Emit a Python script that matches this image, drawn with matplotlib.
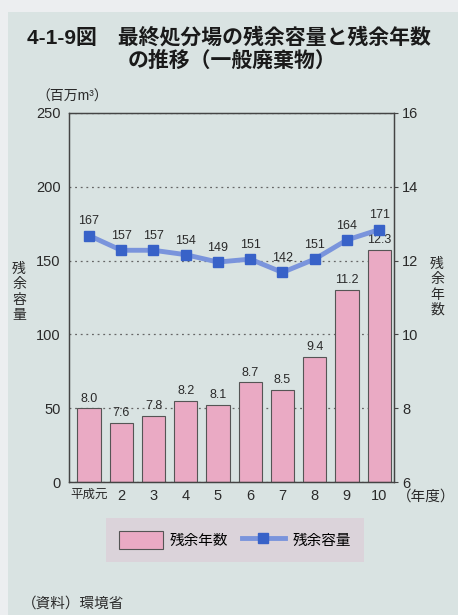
import matplotlib.pyplot as plt
from matplotlib.patches import Patch, Rectangle
from matplotlib.lines import Line2D
import numpy as np

plt.rcParams['font.family'] = ['Liberation Sans', 'Noto Sans CJK JP', 'DejaVu Sans']

years = ['平成元', '2', '3', '4', '5', '6', '7', '8', '9', '10']
remaining_years = [8.0, 7.6, 7.8, 8.2, 8.1, 8.7, 8.5, 9.4, 11.2, 12.3]
remaining_capacity = [167, 157, 157, 154, 149, 151, 142, 151, 164, 171]

bg = '#d9e3e2'
bar_color = '#eaaac4'
line_color = '#7a94dc'
marker_color = '#3862c8'
text_color = '#2a2a2a'

fig = plt.figure(figsize=(4.58, 6.15), dpi=100, facecolor=bg)
# pale margin along the top and left edges
fig.patches.append(Rectangle((0, 1 - 12 / 615), 1, 12 / 615, transform=fig.transFigure,
                             facecolor='#eceef0', edgecolor='none', zorder=0))
fig.patches.append(Rectangle((0, 0), 8 / 458, 1, transform=fig.transFigure,
                             facecolor='#eceef0', edgecolor='none', zorder=0))

ax = fig.add_axes([69 / 458, 1 - 482 / 615, 325 / 458, 369 / 615])
ax2 = ax.twinx()
ax.set_zorder(ax2.get_zorder() + 1)
ax.patch.set_visible(False)
ax2.set_facecolor(bg)

x = np.arange(len(years))

# bars: remaining years (right axis, starts at 6)
base = 6
ax2.bar(x, np.array(remaining_years) - base, bottom=base, width=0.72,
        color=bar_color, edgecolor='#555555', linewidth=0.8, zorder=2)
for xi, v in zip(x, remaining_years):
    ax2.text(xi, v + 0.1, f'{v:.1f}', ha='center', va='bottom', fontsize=9,
             color=text_color, zorder=3)

ax2.set_ylim(6, 16)
ax2.set_yticks([6, 8, 10, 12, 14, 16])
ax2.yaxis.grid(True, linestyle=(0, (1.5, 3)), color='#666666', linewidth=0.9)
ax2.set_axisbelow(True)

# line: remaining capacity (left axis)
ax.plot(x, remaining_capacity, color=line_color, linewidth=3.5, zorder=4,
        marker='s', markersize=7.5, markerfacecolor=marker_color,
        markeredgecolor=marker_color)
for xi, v in zip(x, remaining_capacity):
    ax.text(xi, v + 5.5, str(v), ha='center', va='bottom', fontsize=9,
            color=text_color, zorder=5)

ax.set_ylim(0, 250)
ax.set_yticks([0, 50, 100, 150, 200, 250])
ax.set_xlim(-0.62, 9.46)
ax.set_xticks(x)
ax.set_xticklabels(years)

for a in (ax, ax2):
    for s in a.spines.values():
        s.set_color('#444444')
        s.set_linewidth(0.9)

ax.tick_params(axis='y', length=0, pad=6, labelsize=10.5, labelcolor=text_color)
ax.tick_params(axis='x', length=0, pad=5, labelsize=10.5, labelcolor=text_color)
ax2.tick_params(axis='y', length=3, pad=3, labelsize=10.5, labelcolor=text_color,
                color='#444444')
for lbl in ax.get_xticklabels():
    if lbl.get_text() == '平成元':
        lbl.set_fontsize(9)

# titles and axis captions
fig.text(27 / 458, 1 - 37 / 615, '4-1-9図　最終処分場の残余容量と残余年数',
         fontsize=15, fontweight='bold', ha='left', va='center', color='#1a1a1a')
fig.text(128 / 458, 1 - 61 / 615, 'の推移（一般廃棄物）',
         fontsize=15, fontweight='bold', ha='left', va='center', color='#1a1a1a')
fig.text(36 / 458, 1 - 97 / 615, '（百万m³）', fontsize=10, ha='left', va='center',
         color=text_color)
fig.text(19 / 458, 1 - 292 / 615, '残\n余\n容\n量', fontsize=10, ha='center',
         va='center', linespacing=1.1, color=text_color)
fig.text(437 / 458, 1 - 287 / 615, '残\n余\n年\n数', fontsize=10, ha='center',
         va='center', linespacing=1.1, color=text_color)
fig.text(397 / 458, 1 - 497 / 615, '（年度）', fontsize=10.5, ha='left',
         va='center', color=text_color)
fig.text(22 / 458, 1 - 604 / 615, '（資料）環境省', fontsize=10.5, ha='left',
         va='center', color=text_color)

handles = [Patch(facecolor=bar_color, edgecolor='#555555', linewidth=0.8),
           Line2D([], [], color=line_color, linewidth=3.5, marker='s',
                  markersize=7.5, markerfacecolor=marker_color,
                  markeredgecolor=marker_color)]
leg = fig.legend(handles, ['残余年数', '残余容量'], loc='center',
                 bbox_to_anchor=(235 / 458, 1 - 540 / 615), ncol=2,
                 fontsize=10.5, frameon=True, fancybox=False, handlelength=3.0,
                 handleheight=1.5, columnspacing=0.9, borderpad=0.9,
                 handletextpad=0.5)
leg.get_frame().set_facecolor('#dccfd8')
leg.get_frame().set_edgecolor('none')

fig.savefig('out.png', dpi=100, facecolor=bg)
